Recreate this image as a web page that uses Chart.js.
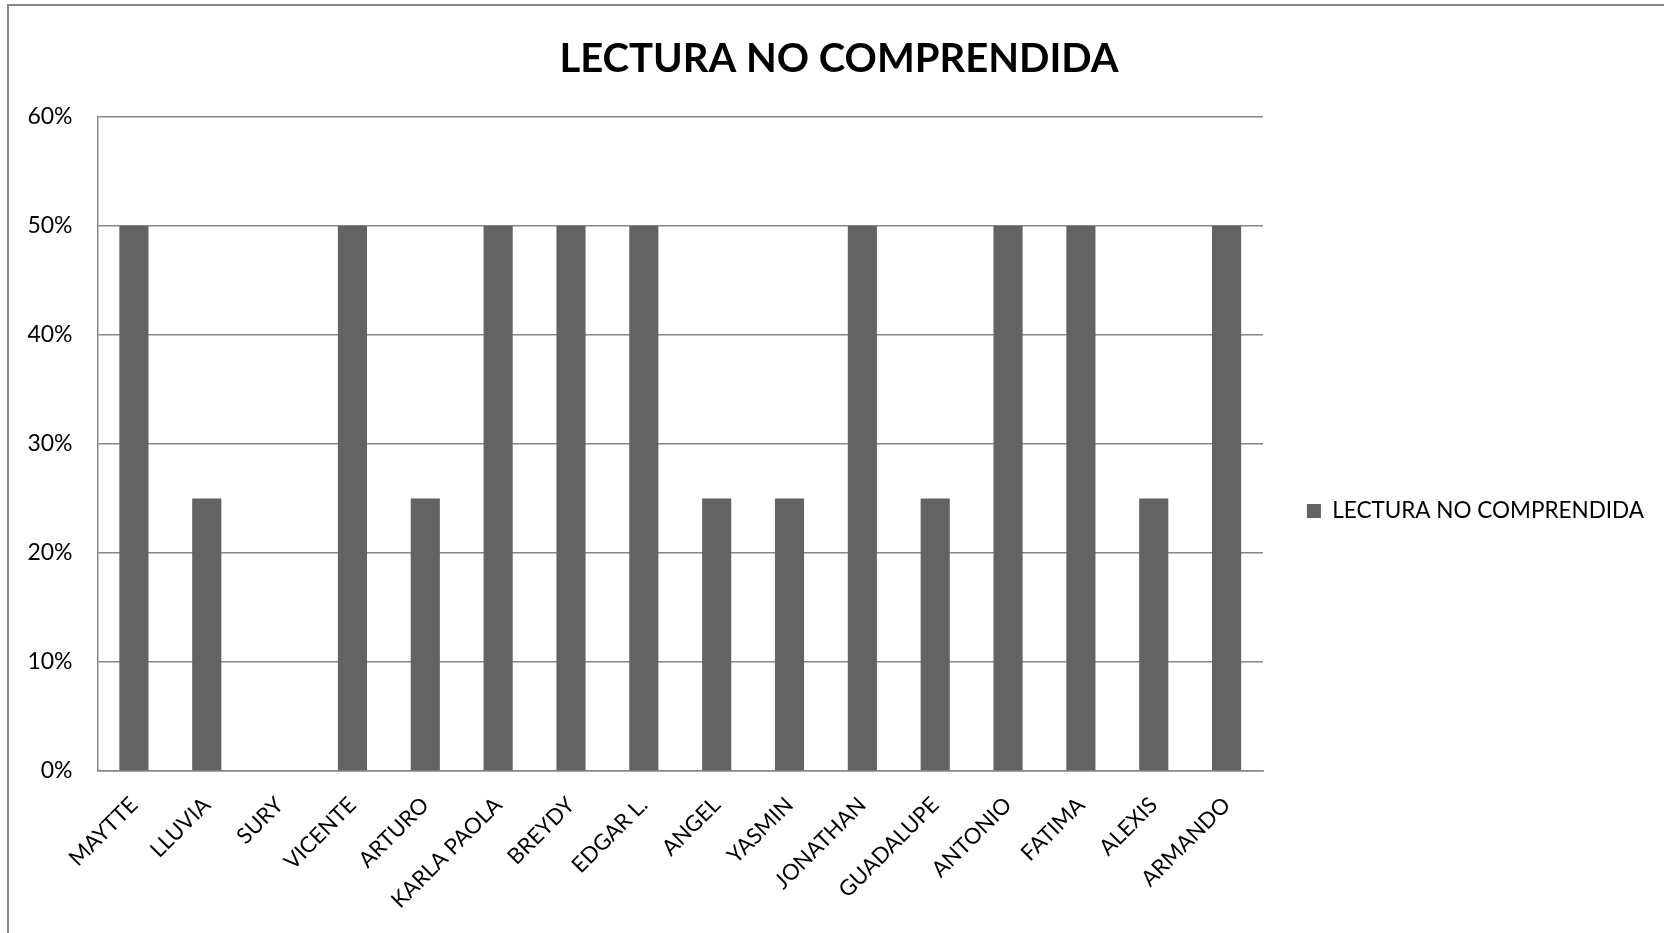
<!DOCTYPE html>
<html><head><meta charset="utf-8">
<script src="https://cdn.jsdelivr.net/npm/chart.js@4"></script>
<style>
html,body{margin:0;padding:0;background:#fff;overflow:hidden;width:1664px;height:933px;}
#frame{position:absolute;left:7px;top:4px;width:1700px;height:1100px;border:2px solid #878787;box-sizing:border-box;}
#wrap{position:absolute;left:0;top:0;width:1654px;height:1022px;}
</style></head><body>
<div id="frame"></div>
<div id="wrap"><canvas id="c"></canvas></div>
<script>
const chartTitle = 'LECTURA NO COMPRENDIDA';
const seriesName = 'LECTURA NO COMPRENDIDA';
const categories = ['MAYTTE','LLUVIA','SURY','VICENTE','ARTURO','KARLA PAOLA','BREYDY','EDGAR L.','ANGEL','YASMIN','JONATHAN','GUADALUPE','ANTONIO','FATIMA','ALEXIS','ARMANDO'];
const values = [50,25,0,50,25,50,50,50,25,25,50,25,50,50,25,50];
const yMin = 0, yMax = 60, yStep = 10;
const tickSuffix = '%';

const FONT = "Lato, 'Open Sans', sans-serif";
const LEGEND_SIZE = 22.5;
const mctx = document.createElement('canvas').getContext('2d');
mctx.font = LEGEND_SIZE + 'px ' + FONT;
const legendTextW = mctx.measureText(seriesName).width;
const legendPad = Math.max(10, 391 - 24 - LEGEND_SIZE / 2 - legendTextW);

Chart.defaults.font.family = FONT;
Chart.defaults.color = '#000';

new Chart(document.getElementById('c'), {
  type: 'bar',
  data: {
    labels: categories,
    datasets: [{
      label: seriesName,
      data: values,
      backgroundColor: '#636363',
      borderWidth: 0,
      barPercentage: 0.4,
      categoryPercentage: 1.0
    }]
  },
  options: {
    responsive: true,
    maintainAspectRatio: false,
    animation: false,
    layout: { padding: { left: 24, top: 0, right: 0, bottom: 0 } },
    plugins: {
      title: {
        display: true,
        text: chartTitle,
        color: '#000',
        font: { family: FONT, size: 40, weight: 'bold' },
        padding: { top: 35, bottom: 34 }
      },
      legend: {
        position: 'right',
        labels: {
          boxWidth: 14,
          boxHeight: 14,
          padding: legendPad,
          color: '#000',
          font: { family: FONT, size: LEGEND_SIZE }
        }
      },
      tooltip: { enabled: false }
    },
    scales: {
      x: {
        grid: { display: false, drawTicks: false },
        border: { display: true, color: '#868686', width: 1.5 },
        ticks: {
          color: '#000',
          font: { size: 22 },
          minRotation: 45,
          maxRotation: 45,
          autoSkip: false,
          padding: 21
        },
        afterFit: s => { s.height = 1022 - 771; }
      },
      y: {
        min: yMin,
        max: yMax,
        ticks: {
          stepSize: yStep,
          color: '#000',
          font: { size: 23 },
          padding: 25,
          callback: v => v + tickSuffix
        },
        grid: { color: '#868686', lineWidth: 1.5, drawTicks: false },
        border: { display: true, color: '#868686', width: 1.5 },
        afterFit: s => { s.width = 73.5; }
      }
    }
  }
});
</script>
</body></html>
